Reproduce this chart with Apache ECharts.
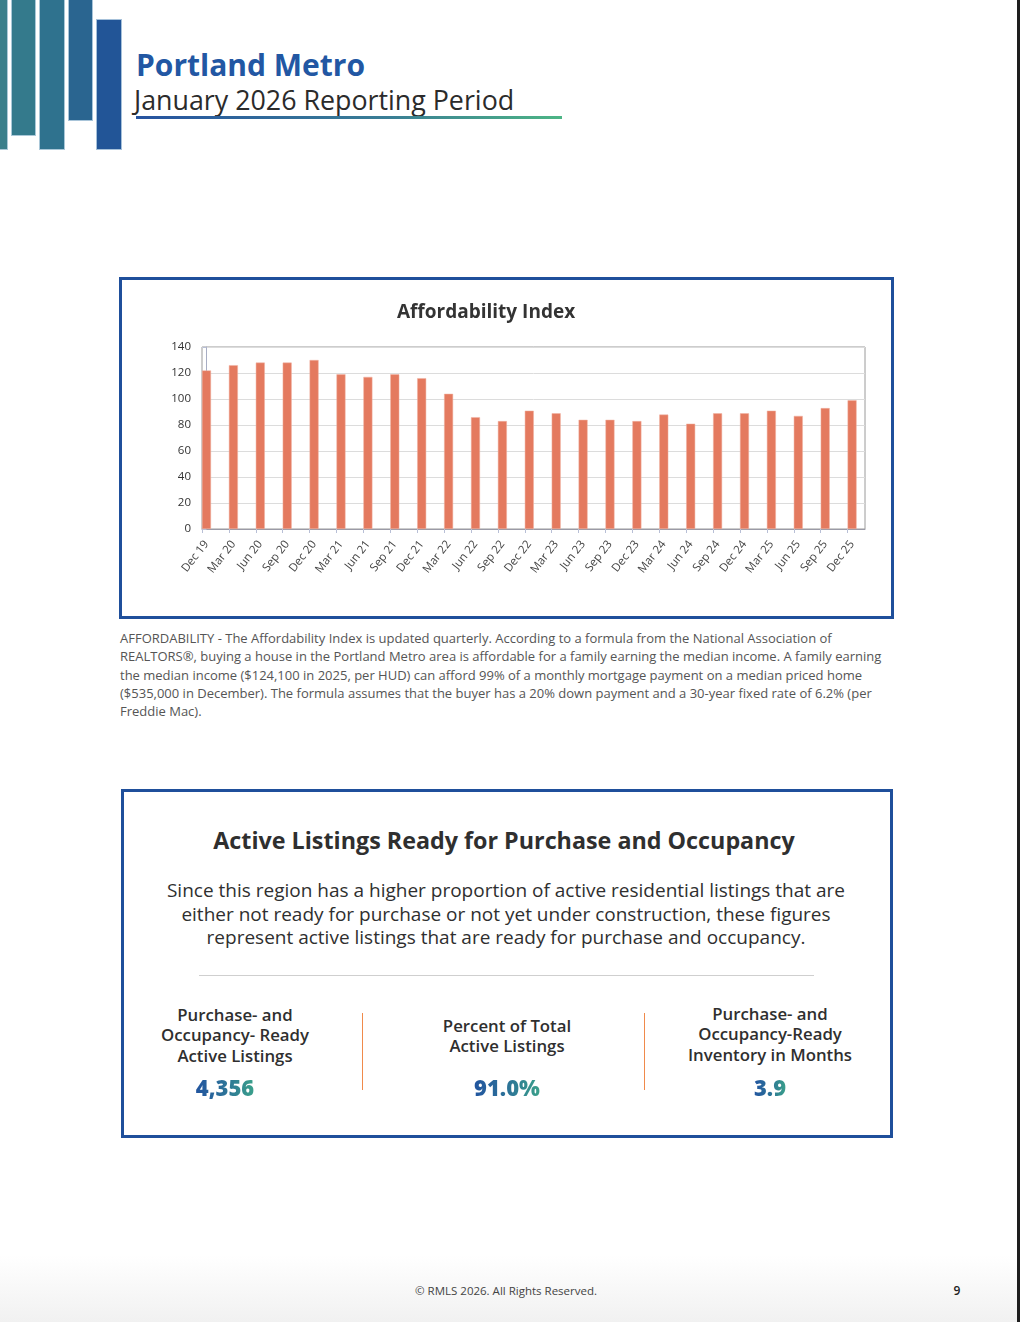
<!DOCTYPE html>
<html><head><meta charset="utf-8">
<script src="https://cdn.jsdelivr.net/npm/echarts@6/dist/echarts.min.js"></script>
<style>
html,body{margin:0;padding:0;background:#fff;}
body{width:1020px;height:1322px;position:relative;overflow:hidden;font-family:"Open Sans",sans-serif;}
.abs{position:absolute;white-space:nowrap;}
.t{position:absolute;white-space:nowrap;}
.c{position:absolute;white-space:nowrap;transform:translateX(-50%);text-align:center;}
.bar{position:absolute;box-sizing:border-box;border:1px solid rgba(200,220,235,0.8);}
.box{position:absolute;box-sizing:border-box;border:3px solid #1f4f9b;}
.grad{background:linear-gradient(90deg,#22559f 0%,#2c7298 50%,#3aa08a 100%);-webkit-background-clip:text;background-clip:text;color:transparent;}
</style></head>
<body>
<!-- header bars -->
<div class="bar" style="left:-1px;top:-1px;width:9px;height:151px;background:#3a7f8b;"></div>
<div class="bar" style="left:11px;top:-1px;width:25px;height:137px;background:#347a8c;"></div>
<div class="bar" style="left:39px;top:-1px;width:26px;height:151px;background:#2f728e;"></div>
<div class="bar" style="left:68px;top:-1px;width:25px;height:122px;background:#2a6590;"></div>
<div class="bar" style="left:96px;top:19px;width:26px;height:131px;background:#225597;"></div>

<div class="t" style="left:134px;top:48px;line-height:34px;font-size:30px;font-weight:700;color:#2257a3;"><span style="padding-left:2px;">Portland Metro</span><br><span style="font-size:26.8px;font-weight:400;color:#2b2b2b;line-height:34px;">January 2026 Reporting Period</span></div>
<div class="abs" style="left:136px;top:116px;width:426px;height:3px;background:linear-gradient(90deg,#2653a0,#3a7f95 60%,#4db585);"></div>

<!-- chart box -->
<div class="box" style="left:119px;top:277px;width:775px;height:342px;"></div>
<div id="chart" class="abs" style="left:122px;top:280px;width:769px;height:336px;"></div>

<div id="para" class="abs" style="left:120px;top:629px;font-size:13px;line-height:18.3px;color:#555;font-weight:400;">
AFFORDABILITY - The Affordability Index is updated quarterly. According to a formula from the National Association of<br>
REALTORS®, buying a house in the Portland Metro area is affordable for a family earning the median income. A family earning<br>
the median income ($124,100 in 2025, per HUD) can afford 99% of a monthly mortgage payment on a median priced home<br>
($535,000 in December). The formula assumes that the buyer has a 20% down payment and a 30-year fixed rate of 6.2% (per<br>
Freddie Mac).
</div>

<!-- second box -->
<div class="box" style="left:121px;top:789px;width:772px;height:349px;"></div>
<div class="c" style="left:504px;top:826px;height:28px;line-height:28px;font-size:23.3px;font-weight:700;color:#2f2f2f;">Active Listings Ready for Purchase and Occupancy</div>
<div class="c" style="left:506px;top:879px;line-height:23.5px;font-size:19px;color:#2f2f2f;">Since this region has a higher proportion of active residential listings that are<br>either not ready for purchase or not yet under construction, these figures<br>represent active listings that are ready for purchase and occupancy.</div>
<div class="abs" style="left:199px;top:975px;width:615px;height:1px;background:#cfcfcf;"></div>

<div id="cols"></div>

<div class="abs" style="left:362px;top:1013px;width:1px;height:77px;background:#f08a4b;"></div>
<div class="abs" style="left:644px;top:1013px;width:1px;height:77px;background:#f08a4b;"></div>

<!-- footer -->
<div class="abs" style="left:0;top:1255px;width:1020px;height:67px;background:linear-gradient(180deg,#ffffff,#f1f1f1);"></div>
<div class="c" style="left:506px;top:1283px;height:15px;line-height:15px;font-size:11.5px;color:#444;">© RMLS 2026. All Rights Reserved.</div>
<div class="c" style="left:957px;top:1283px;height:15px;line-height:15px;font-size:12px;font-weight:600;color:#222;">9</div>
<div class="abs" style="left:1017px;top:0;width:3px;height:1322px;background:#1e1e1e;"></div>

<script>
// ---- data ----
const categories = ['Dec 19','Mar 20','Jun 20','Sep 20','Dec 20','Mar 21','Jun 21','Sep 21','Dec 21','Mar 22','Jun 22','Sep 22','Dec 22','Mar 23','Jun 23','Sep 23','Dec 23','Mar 24','Jun 24','Sep 24','Dec 24','Mar 25','Jun 25','Sep 25','Dec 25'];
const affordability = [122,126,128,128,130,119,117,119,116,104,86,83,91,89,84,84,83,88,81,89,89,91,87,93,99];
const yTicks = [0,20,40,60,80,100,120,140];

const statLabels = [
  ['Purchase- and','Occupancy- Ready','Active Listings'],
  ['Percent of Total','Active Listings'],
  ['Purchase- and','Occupancy-Ready','Inventory in Months']
];
const statValues = ['4,356','91.0%','3.9'];

// ---- stats columns (layout) ----
(function(){
  const centers = [235,507,770];
  const valCenters = [225,507,770];
  const firstLine = [1015,1026,1014];
  const lh = 20.5;
  let html = '';
  statLabels.forEach((lines,i)=>{
    html += '<div class="c" style="left:'+centers[i]+'px;top:'+(firstLine[i]-lh/2)+'px;line-height:'+lh+'px;font-size:16.8px;font-weight:600;color:#2f2f2f;">'+lines.join('<br>')+'</div>';
    html += '<div class="c grad" style="left:'+valCenters[i]+'px;top:'+(1087-14)+'px;height:28px;line-height:28px;font-size:22px;font-weight:800;">'+statValues[i]+'</div>';
  });
  document.getElementById('cols').innerHTML = html;
})();

// ---- chart ----
// bars sit at the left of each category band (Excel-style); x positions are category indices
const barOffset = 0.167;            // band start relative to bar centre, in category units
const xMin = -barOffset, xMax = 24.48;
const barPoints = affordability.map((v,i)=>[i,v]);
const tickVals = categories.map((c,i)=>i-barOffset);
const labelVals = categories.map((c,i)=>i);

const chart = echarts.init(document.getElementById('chart'), null, {renderer:'canvas'});
chart.setOption({
  animation:false,
  title:{
    text:'Affordability Index', left:270, top:18,
    textStyle:{fontFamily:'Open Sans', fontSize:19, fontWeight:700, color:'#333'}
  },
  grid:{left:80, top:67, width:663, height:182, show:true, borderColor:'#9a9a9a', borderWidth:1, containLabel:false},
  xAxis:{
    type:'value', min:xMin, max:xMax,
    splitLine:{show:false},
    axisLine:{show:true, onZero:false, lineStyle:{color:'#9a9aa6', width:1}},
    axisTick:{show:true, customValues:tickVals, length:4, lineStyle:{color:'#b8bfd6'}},
    axisLabel:{customValues:labelVals, rotate:52, fontSize:11.5, color:'#444', fontFamily:'Open Sans', margin:13,
      formatter:(v)=>{const i=Math.round(v); return (Math.abs(v-i)<1e-6 && categories[i])?categories[i]:'';}}
  },
  yAxis:{
    type:'value', min:yTicks[0], max:yTicks[yTicks.length-1], interval:20,
    axisLine:{show:true, lineStyle:{color:'#a8aec4', width:1}},
    axisTick:{show:true, length:4, lineStyle:{color:'#b8bfd6'}},
    axisLabel:{fontSize:11.5, color:'#333', fontFamily:'Open Sans', margin:11},
    splitLine:{show:true, lineStyle:{color:'#dcdcdc', width:1}}
  },
  series:[{
    type:'bar', data:barPoints, barWidth:9,
    itemStyle:{color:'#e47a5f', borderColor:'#f0b3a3', borderWidth:0.5}
  }]
});
</script>
</body></html>
